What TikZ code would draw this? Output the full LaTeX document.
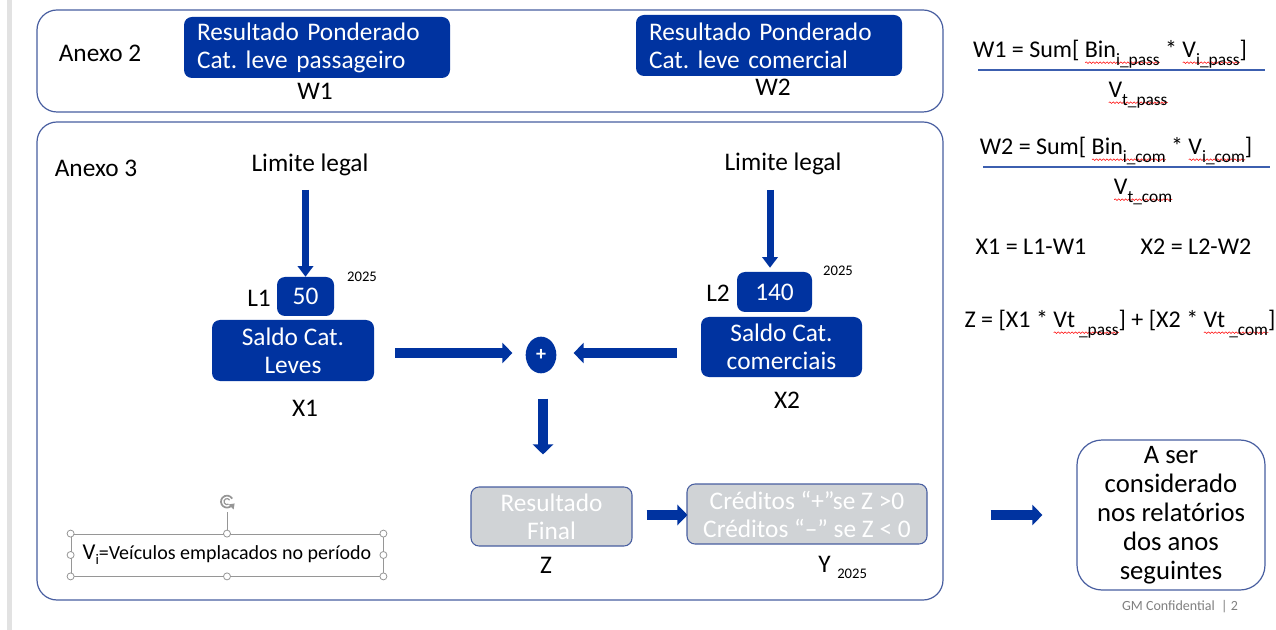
\documentclass[tikz,border=0pt]{standalone}
\usepackage{fontspec}
\setmainfont{Carlito}
\usetikzlibrary{arrows.meta,calc,shapes.geometric,decorations.pathmorphing}
\newsavebox\rwbox
\newdimen\rwlen
\newcommand\rw[1]{\sbox\rwbox{#1}\rwlen=\wd\rwbox\rlap{\raisebox{-3.5pt}[0pt][0pt]{\tikz[baseline=0pt]\draw[red, line width=0.4pt, decorate, decoration={snake, amplitude=0.6pt, segment length=2.6pt}] (0pt,0pt) -- (\rwlen,0pt);}}\usebox\rwbox}
\newcommand\subt[1]{\raisebox{-0.3em}{\fontsize{13}{13}\selectfont #1}}
\definecolor{gmblue}{RGB}{0,51,160}
\definecolor{frameblue}{RGB}{72,94,160}
\definecolor{greyfill}{RGB}{208,211,214}
\definecolor{stripgrey}{RGB}{226,226,226}
\definecolor{handlegrey}{RGB}{150,150,150}
\definecolor{ruleblue}{RGB}{60,95,175}
\frenchspacing
\begin{document}
\begin{tikzpicture}[x=0.75pt,y=-0.75pt,
  every node/.style={inner sep=0pt, font=\fontsize{19}{21}\selectfont},
  panel/.style={draw=frameblue, line width=0.9pt, rounded corners=15pt},
  bluebox/.style={fill=gmblue, text=white, rounded corners=6pt, align=center},
  greybox/.style={fill=greyfill, draw=frameblue, line width=0.8pt, text=white, rounded corners=6pt, align=center},
  lbl/.style={anchor=base},
  small/.style={anchor=base, font=\fontsize{11}{11}\selectfont},
  formula/.style={anchor=base, font=\fontsize{18}{20}\selectfont},
  arrV/.style={draw=gmblue, line width=5.25pt, -{Triangle[length=8pt,width=11.5pt]}},
  arrH/.style={draw=gmblue, line width=7.5pt, -{Triangle[length=7.5pt,width=15pt]}},
  handle/.style={draw=handlegrey, fill=white, line width=0.6pt},
  formrule/.style={draw=ruleblue, line width=1.1pt}
]
\useasboundingbox (0,0) rectangle (1276,630);
\fill[white] (0,0) rectangle (1276,630);
\fill[stripgrey] (7,0) rectangle (12,630);

% panels
\draw[panel] (37,10) rectangle (943,112);
\draw[panel] (37,122) rectangle (943,600);

% Anexo 2
\node[lbl] (anexo2) at (100,62) {Anexo 2};
\node[bluebox, align=left, text width=180pt, inner xsep=9.75pt, minimum height=45.75pt] (w1box) at (317,47.5)
  {Resultado Ponderado\\Cat. leve passageiro};
\node[bluebox, align=left, text width=180pt, inner xsep=9.75pt, minimum height=45.75pt] (w2box) at (769,45.5)
  {Resultado Ponderado\\Cat. leve comercial};
\node[lbl] (w1lbl) at (315,100) {W1};
\node[lbl] (w2lbl) at (773,96) {W2};

% Anexo 3
\node[lbl] (anexo3) at (96,177) {Anexo 3};
\node[lbl] (lim1) at (310,172) {Limite legal};
\node[lbl] (lim2) at (783,171) {Limite legal};

\node[bluebox, minimum width=42.75pt, minimum height=29.25pt] (l1) at (305.5,296.5) {50};
\node[bluebox, minimum width=121.5pt, minimum height=45.75pt] (s1) at (293,350.5) {Saldo Cat.\\Leves};
\node[lbl] (l1lbl) at (259,307) {L1};
\node[small] (y1) at (362,282) {2025};
\node[lbl] (x1lbl) at (305,416) {X1};

\node[bluebox, minimum width=56.25pt, minimum height=30pt] (l2) at (774.5,292) {140};
\node[bluebox, minimum width=120.75pt, minimum height=45pt] (s2) at (781.5,347) {Saldo Cat.\\comerciais};
\node[lbl] (l2lbl) at (718,302) {L2};
\node[small] (y2) at (838,276) {2025};
\node[lbl] (x2lbl) at (787,408) {X2};

\node[ellipse, fill=gmblue, text=white, minimum width=23pt, minimum height=27.5pt, font=\fontsize{15}{15}\selectfont\bfseries] (plus) at (541,355) {+};

\node[greybox, minimum width=120.75pt, minimum height=44.25pt] (res) at (551.5,516.5) {Resultado\\Final};
\node[lbl] (zlbl) at (546,573) {Z};
\node[greybox, minimum width=180pt, minimum height=45pt] (cred) at (807,514)
  {Créditos “+”se Z >0\\Créditos “–” se Z < 0};
\node[lbl, anchor=base west] (ylbl) at (818,572) {Y\hspace{5pt}\raisebox{-5pt}{\fontsize{11}{11}\selectfont 2025}};

\node[draw=frameblue, line width=0.9pt, rounded corners=18.75pt, minimum width=141pt, minimum height=112.5pt,
  align=center, font=\fontsize{20}{21.75}\selectfont] (aser) at (1171,515)
  {A ser\\considerado\\nos relatórios\\dos anos\\seguintes};

% Vi text box with selection frame
\node[draw=handlegrey, line width=0.6pt, minimum width=234pt, minimum height=31.5pt, font=\fontsize{15}{15}\selectfont] (vi) at (227,555)
  {{\fontsize{17}{17}\selectfont V}\raisebox{-0.25em}{\fontsize{11}{11}\selectfont i}=Veículos emplacados no período};
\coordinate (rot) at ($(vi.north)+(0,-22)$);
\draw[draw=handlegrey, line width=0.6pt] (vi.north) -- (rot);
\foreach \a in {north west,north,north east,west,east,south west,south,south east}
  \draw[handle] (vi.\a) circle (3.5);
\draw[handlegrey, line width=1.3pt] ($(rot)+(0,-10)$) ++(40:6) arc[start angle=40, end angle=330, radius=6];
\draw[handlegrey, line width=0.9pt] ($(rot)+(0,-10)$) ++(60:3) arc[start angle=60, end angle=330, radius=3];
\fill[handlegrey] ($(rot)+(0,-10)+(40:6)+(-3,-1)$) -- ++(6,-1) -- ++(-1,6) -- cycle;

% connectors
\draw[arrV] ($(l1.north |- lim1.base)+(0,18)$) -- (l1.north);
\draw[arrV] ($(l2.north |- lim2.base)+(-4.5,19)$) -- ($(l2.north)+(-4.5,-4)$);
\draw[arrH] ($(s1.east)+(21,2.5)$) -- ($(plus.west)+(-13,-2)$);
\draw[arrH] ($(s2.west)+(-24,6)$) -- ($(plus.east)+(17,-2)$);
\draw[arrH] ($(plus.south)+(2,25)$) -- ($(res.north)+(-8.5,-32)$);
\draw[arrH] ($(res.east)+(14,-1.5)$) -- ($(cred.west)+(1,1)$);
\draw[arrH] ($(cred.east)+(63,1)$) -- ($(aser.west)+(-34,0)$);

% formulas
\node[formula] (f1) at (1110,58) {W1 = Sum[ \rw{Bin\subt{i\_pass}} * \rw{V\subt{i\_pass}}]};
\coordinate (r1a) at (978,70);
\coordinate (r1b) at (1265,70);
\draw[formrule] (r1a) -- (r1b);
\node[formula] (f1d) at (1138,98) {\rw{V\subt{t\_pass}}};
\node[formula] (f2) at (1116,155) {W2 = Sum[ \rw{Bin\subt{i\_com}} * \rw{V\subt{i\_com}}]};
\coordinate (r2a) at (983,167);
\coordinate (r2b) at (1270,167);
\draw[formrule] (r2a) -- (r2b);
\node[formula] (f2d) at (1143,195) {\rw{V\subt{t\_com}}};
\node[formula] (fx1) at (1031,255) {X1 = L1-W1};
\node[formula] (fx2) at (1196,255) {X2 = L2-W2};
\node[formula] (fz) at (1120,328) {Z = [X1 * \rw{Vt\,\subt{\_pass}}] + [X2 * \rw{Vt\,\subt{\_com}}]};

\node[anchor=base, font=\fontsize{10.5}{10.5}\selectfont, text=gray] (conf) at (1180,610) {GM Confidential\ \ |\ 2};
\end{tikzpicture}
\end{document}
